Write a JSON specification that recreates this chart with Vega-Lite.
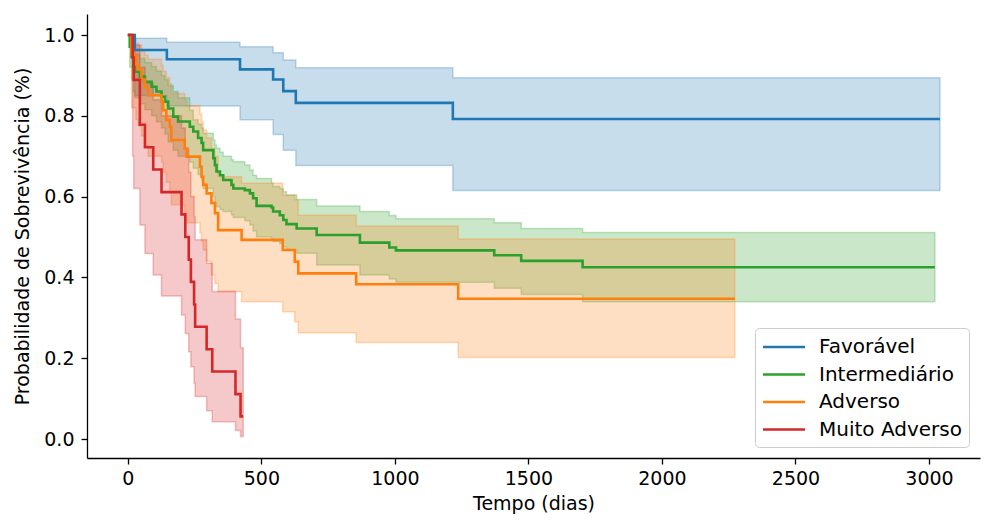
{
  "$schema": "https://vega.github.io/schema/vega-lite/v6.json",
  "width": 893,
  "height": 444,
  "autosize": {"type": "none"},
  "padding": {"left": 87, "top": 14, "right": 14, "bottom": 74},
  "data": {
    "values": [
      {"g": "Favorável", "t": 0, "s": 1, "lo": 1, "hi": 1},
      {"g": "Favorável", "t": 26, "s": 0.963, "lo": 0.85, "hi": 0.992},
      {"g": "Favorável", "t": 146, "s": 0.94, "lo": 0.824, "hi": 0.982},
      {"g": "Favorável", "t": 420, "s": 0.915, "lo": 0.79, "hi": 0.971},
      {"g": "Favorável", "t": 544, "s": 0.89, "lo": 0.754, "hi": 0.956},
      {"g": "Favorável", "t": 582, "s": 0.861, "lo": 0.715, "hi": 0.938},
      {"g": "Favorável", "t": 629, "s": 0.832, "lo": 0.677, "hi": 0.919},
      {"g": "Favorável", "t": 1217, "s": 0.792, "lo": 0.615, "hi": 0.894},
      {"g": "Favorável", "t": 3041, "s": 0.792, "lo": 0.615, "hi": 0.894},

      {"g": "Intermediário", "t": 0, "s": 1, "lo": 1, "hi": 1},
      {"g": "Intermediário", "t": 7, "s": 0.971, "lo": 0.92, "hi": 0.99},
      {"g": "Intermediário", "t": 14, "s": 0.946, "lo": 0.89, "hi": 0.977},
      {"g": "Intermediário", "t": 20, "s": 0.922, "lo": 0.86, "hi": 0.962},
      {"g": "Intermediário", "t": 26, "s": 0.909, "lo": 0.845, "hi": 0.952},
      {"g": "Intermediário", "t": 45, "s": 0.897, "lo": 0.83, "hi": 0.942},
      {"g": "Intermediário", "t": 64, "s": 0.884, "lo": 0.815, "hi": 0.932},
      {"g": "Intermediário", "t": 89, "s": 0.872, "lo": 0.8, "hi": 0.922},
      {"g": "Intermediário", "t": 107, "s": 0.86, "lo": 0.785, "hi": 0.911},
      {"g": "Intermediário", "t": 126, "s": 0.847, "lo": 0.77, "hi": 0.9},
      {"g": "Intermediário", "t": 139, "s": 0.835, "lo": 0.755, "hi": 0.889},
      {"g": "Intermediário", "t": 151, "s": 0.818, "lo": 0.735, "hi": 0.875},
      {"g": "Intermediário", "t": 170, "s": 0.798, "lo": 0.715, "hi": 0.86},
      {"g": "Intermediário", "t": 188, "s": 0.786, "lo": 0.7, "hi": 0.845},
      {"g": "Intermediário", "t": 232, "s": 0.773, "lo": 0.685, "hi": 0.814},
      {"g": "Intermediário", "t": 245, "s": 0.761, "lo": 0.67, "hi": 0.79},
      {"g": "Intermediário", "t": 263, "s": 0.745, "lo": 0.655, "hi": 0.78},
      {"g": "Intermediário", "t": 276, "s": 0.733, "lo": 0.64, "hi": 0.77},
      {"g": "Intermediário", "t": 282, "s": 0.715, "lo": 0.62, "hi": 0.757},
      {"g": "Intermediário", "t": 320, "s": 0.695, "lo": 0.6, "hi": 0.74},
      {"g": "Intermediário", "t": 326, "s": 0.678, "lo": 0.585, "hi": 0.728},
      {"g": "Intermediário", "t": 332, "s": 0.662, "lo": 0.575, "hi": 0.72},
      {"g": "Intermediário", "t": 345, "s": 0.653, "lo": 0.568, "hi": 0.71},
      {"g": "Intermediário", "t": 357, "s": 0.641, "lo": 0.563, "hi": 0.7},
      {"g": "Intermediário", "t": 388, "s": 0.629, "lo": 0.555, "hi": 0.691},
      {"g": "Intermediário", "t": 395, "s": 0.62, "lo": 0.548, "hi": 0.686},
      {"g": "Intermediário", "t": 438, "s": 0.616, "lo": 0.54, "hi": 0.678},
      {"g": "Intermediário", "t": 457, "s": 0.608, "lo": 0.53, "hi": 0.666},
      {"g": "Intermediário", "t": 469, "s": 0.596, "lo": 0.515, "hi": 0.653},
      {"g": "Intermediário", "t": 482, "s": 0.577, "lo": 0.5, "hi": 0.645},
      {"g": "Intermediário", "t": 538, "s": 0.573, "lo": 0.495, "hi": 0.633},
      {"g": "Intermediário", "t": 544, "s": 0.563, "lo": 0.489, "hi": 0.625},
      {"g": "Intermediário", "t": 569, "s": 0.554, "lo": 0.484, "hi": 0.62},
      {"g": "Intermediário", "t": 582, "s": 0.542, "lo": 0.476, "hi": 0.612},
      {"g": "Intermediário", "t": 594, "s": 0.532, "lo": 0.468, "hi": 0.604},
      {"g": "Intermediário", "t": 632, "s": 0.521, "lo": 0.46, "hi": 0.593},
      {"g": "Intermediário", "t": 707, "s": 0.505, "lo": 0.431, "hi": 0.577},
      {"g": "Intermediário", "t": 869, "s": 0.486, "lo": 0.406, "hi": 0.563},
      {"g": "Intermediário", "t": 979, "s": 0.474, "lo": 0.396, "hi": 0.553},
      {"g": "Intermediário", "t": 1004, "s": 0.467, "lo": 0.388, "hi": 0.545},
      {"g": "Intermediário", "t": 1372, "s": 0.455, "lo": 0.373, "hi": 0.535},
      {"g": "Intermediário", "t": 1473, "s": 0.441, "lo": 0.358, "hi": 0.521},
      {"g": "Intermediário", "t": 1703, "s": 0.425, "lo": 0.34, "hi": 0.511},
      {"g": "Intermediário", "t": 3022, "s": 0.425, "lo": 0.34, "hi": 0.511},

      {"g": "Adverso", "t": 0, "s": 1, "lo": 1, "hi": 1},
      {"g": "Adverso", "t": 14, "s": 0.951, "lo": 0.82, "hi": 0.99},
      {"g": "Adverso", "t": 30, "s": 0.927, "lo": 0.79, "hi": 0.98},
      {"g": "Adverso", "t": 39, "s": 0.915, "lo": 0.775, "hi": 0.975},
      {"g": "Adverso", "t": 51, "s": 0.89, "lo": 0.75, "hi": 0.96},
      {"g": "Adverso", "t": 64, "s": 0.87, "lo": 0.725, "hi": 0.95},
      {"g": "Adverso", "t": 76, "s": 0.851, "lo": 0.7, "hi": 0.94},
      {"g": "Adverso", "t": 126, "s": 0.835, "lo": 0.685, "hi": 0.925},
      {"g": "Adverso", "t": 132, "s": 0.814, "lo": 0.66, "hi": 0.91},
      {"g": "Adverso", "t": 144, "s": 0.79, "lo": 0.635, "hi": 0.895},
      {"g": "Adverso", "t": 157, "s": 0.773, "lo": 0.615, "hi": 0.88},
      {"g": "Adverso", "t": 163, "s": 0.74, "lo": 0.58, "hi": 0.855},
      {"g": "Adverso", "t": 213, "s": 0.719, "lo": 0.555, "hi": 0.84},
      {"g": "Adverso", "t": 220, "s": 0.699, "lo": 0.535, "hi": 0.825},
      {"g": "Adverso", "t": 270, "s": 0.674, "lo": 0.51, "hi": 0.805},
      {"g": "Adverso", "t": 276, "s": 0.649, "lo": 0.49, "hi": 0.785},
      {"g": "Adverso", "t": 282, "s": 0.629, "lo": 0.468, "hi": 0.765},
      {"g": "Adverso", "t": 295, "s": 0.608, "lo": 0.44, "hi": 0.745},
      {"g": "Adverso", "t": 313, "s": 0.584, "lo": 0.406, "hi": 0.72},
      {"g": "Adverso", "t": 326, "s": 0.559, "lo": 0.385, "hi": 0.7},
      {"g": "Adverso", "t": 338, "s": 0.517, "lo": 0.365, "hi": 0.649},
      {"g": "Adverso", "t": 426, "s": 0.493, "lo": 0.34, "hi": 0.633},
      {"g": "Adverso", "t": 580, "s": 0.468, "lo": 0.315, "hi": 0.604},
      {"g": "Adverso", "t": 625, "s": 0.439, "lo": 0.29, "hi": 0.592},
      {"g": "Adverso", "t": 638, "s": 0.41, "lo": 0.263, "hi": 0.554},
      {"g": "Adverso", "t": 855, "s": 0.383, "lo": 0.239, "hi": 0.527},
      {"g": "Adverso", "t": 1237, "s": 0.347, "lo": 0.202, "hi": 0.495},
      {"g": "Adverso", "t": 2273, "s": 0.347, "lo": 0.202, "hi": 0.495},

      {"g": "Muito Adverso", "t": 0, "s": 1, "lo": 1, "hi": 1},
      {"g": "Muito Adverso", "t": 18, "s": 0.944, "lo": 0.7, "hi": 0.99},
      {"g": "Muito Adverso", "t": 22, "s": 0.889, "lo": 0.62, "hi": 0.975},
      {"g": "Muito Adverso", "t": 45, "s": 0.778, "lo": 0.53, "hi": 0.92},
      {"g": "Muito Adverso", "t": 64, "s": 0.722, "lo": 0.459, "hi": 0.88},
      {"g": "Muito Adverso", "t": 95, "s": 0.667, "lo": 0.406, "hi": 0.84},
      {"g": "Muito Adverso", "t": 126, "s": 0.611, "lo": 0.354, "hi": 0.8},
      {"g": "Muito Adverso", "t": 201, "s": 0.556, "lo": 0.307, "hi": 0.77},
      {"g": "Muito Adverso", "t": 215, "s": 0.5, "lo": 0.261, "hi": 0.72},
      {"g": "Muito Adverso", "t": 228, "s": 0.444, "lo": 0.216, "hi": 0.66},
      {"g": "Muito Adverso", "t": 236, "s": 0.389, "lo": 0.179, "hi": 0.6},
      {"g": "Muito Adverso", "t": 248, "s": 0.333, "lo": 0.138, "hi": 0.55},
      {"g": "Muito Adverso", "t": 252, "s": 0.278, "lo": 0.105, "hi": 0.493},
      {"g": "Muito Adverso", "t": 295, "s": 0.222, "lo": 0.07, "hi": 0.435},
      {"g": "Muito Adverso", "t": 316, "s": 0.167, "lo": 0.043, "hi": 0.365},
      {"g": "Muito Adverso", "t": 403, "s": 0.111, "lo": 0.021, "hi": 0.297},
      {"g": "Muito Adverso", "t": 422, "s": 0.056, "lo": 0.006, "hi": 0.226},
      {"g": "Muito Adverso", "t": 432, "s": 0.056, "lo": 0.006, "hi": 0.226}
    ]
  },
  "encoding": {
    "x": {
      "field": "t",
      "type": "quantitative",
      "scale": {"domain": [-153, 3191], "nice": false, "zero": false},
      "axis": {"title": "Tempo (dias)", "values": [0, 500, 1000, 1500, 2000, 2500, 3000], "format": "d"}
    }
  },
  "layer": [
    {
      "mark": {"type": "area", "interpolate": "step-after", "fillOpacity": 0.25, "strokeOpacity": 0.28, "strokeWidth": 1.5},
      "encoding": {
        "y": {"field": "lo", "type": "quantitative"},
        "y2": {"field": "hi"},
        "fill": {
          "field": "g",
          "type": "nominal",
          "legend": null,
          "scale": {
            "domain": ["Favorável", "Intermediário", "Adverso", "Muito Adverso"],
            "range": ["#1f77b4", "#2ca02c", "#ff7f0e", "#d62728"]
          }
        },
        "stroke": {
          "field": "g",
          "type": "nominal",
          "legend": null,
          "scale": {
            "domain": ["Favorável", "Intermediário", "Adverso", "Muito Adverso"],
            "range": ["#1f77b4", "#2ca02c", "#ff7f0e", "#d62728"]
          }
        }
      }
    },
    {
      "mark": {"type": "line", "interpolate": "step-after", "strokeWidth": 2.6},
      "encoding": {
        "y": {
          "field": "s",
          "type": "quantitative",
          "scale": {"domain": [-0.047, 1.052], "nice": false, "zero": false},
          "axis": {"title": "Probabilidade de Sobrevivência (%)", "values": [0, 0.2, 0.4, 0.6, 0.8, 1.0], "format": ".1f"}
        },
        "color": {
          "field": "g",
          "type": "nominal",
          "scale": {
            "domain": ["Favorável", "Intermediário", "Adverso", "Muito Adverso"],
            "range": ["#1f77b4", "#2ca02c", "#ff7f0e", "#d62728"]
          },
          "legend": {
            "orient": "bottom-right",
            "offset": 11,
            "title": null,
            "symbolType": "M-2,0L2,0",
            "symbolSize": 441,
            "symbolStrokeWidth": 2.6,
            "symbolOffset": 10,
            "labelOffset": 23,
            "labelFontSize": 20,
            "rowPadding": 5.5,
            "padding": 7,
            "fillColor": "rgba(255,255,255,0.8)",
            "strokeColor": "#cccccc",
            "cornerRadius": 4
          }
        }
      }
    }
  ],
  "resolve": {"scale": {"fill": "independent", "stroke": "independent"}},
  "config": {
    "font": "DejaVu Sans",
    "view": {"stroke": null},
    "axis": {
      "grid": false,
      "domainColor": "#000000",
      "domainWidth": 1.3,
      "tickColor": "#000000",
      "tickWidth": 1.3,
      "tickSize": 6,
      "labelColor": "#000000",
      "labelFontSize": 19,
      "labelPadding": 5,
      "titleColor": "#000000",
      "titleFontSize": 19,
      "titleFontWeight": "normal"
    },
    "axisX": {"titlePadding": 6},
    "axisY": {"titlePadding": 11, "labelPadding": 7},
    "legend": {"labelColor": "#000000", "labelFont": "DejaVu Sans"}
  }
}
